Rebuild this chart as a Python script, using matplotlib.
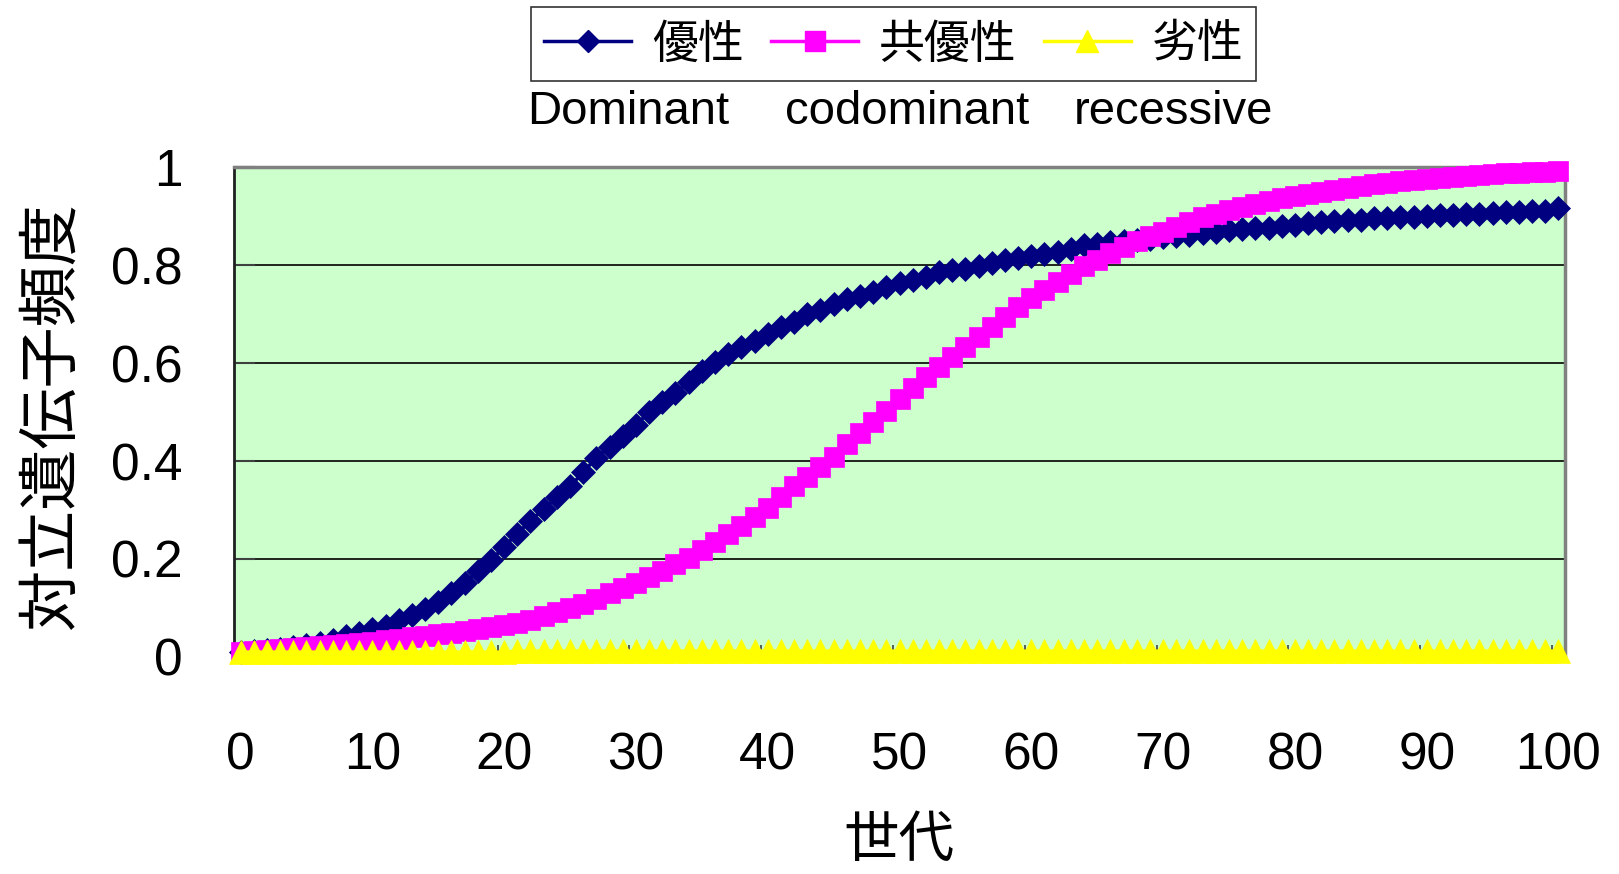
import numpy as np
import matplotlib
matplotlib.use('Agg')
import matplotlib.pyplot as plt
from matplotlib.lines import Line2D

LATIN = 'Liberation Sans'
CJK = 'Noto Sans CJK JP'

generations = np.arange(0, 101)

# allele frequency per generation, one list per mode of inheritance
dominant = [
	0.010, 0.012, 0.014, 0.017, 0.020, 0.024, 0.028, 0.035, 0.042, 0.049,
	0.057, 0.064, 0.076, 0.085, 0.097, 0.112, 0.131, 0.150, 0.175, 0.197,
	0.225, 0.252, 0.278, 0.302, 0.326, 0.348, 0.377, 0.407, 0.429, 0.452,
	0.473, 0.500, 0.520, 0.539, 0.561, 0.584, 0.602, 0.619, 0.632, 0.645,
	0.659, 0.673, 0.684, 0.700, 0.708, 0.721, 0.730, 0.736, 0.744, 0.756,
	0.764, 0.769, 0.776, 0.785, 0.789, 0.792, 0.798, 0.805, 0.811, 0.814,
	0.818, 0.823, 0.826, 0.833, 0.840, 0.842, 0.847, 0.849, 0.852, 0.853,
	0.858, 0.859, 0.862, 0.865, 0.867, 0.871, 0.874, 0.875, 0.876, 0.879,
	0.882, 0.885, 0.888, 0.890, 0.891, 0.892, 0.895, 0.895, 0.897, 0.898,
	0.900, 0.902, 0.903, 0.904, 0.905, 0.907, 0.908, 0.909, 0.910, 0.911,
	0.917]

codominant = [
	0.010, 0.013, 0.015, 0.017, 0.019, 0.021, 0.023, 0.025, 0.027, 0.029,
	0.031, 0.034, 0.037, 0.040, 0.043, 0.046, 0.049, 0.053, 0.057, 0.061,
	0.065, 0.070, 0.076, 0.083, 0.091, 0.100, 0.109, 0.119, 0.130, 0.141,
	0.152, 0.164, 0.176, 0.189, 0.203, 0.218, 0.234, 0.250, 0.267, 0.285,
	0.305, 0.327, 0.348, 0.368, 0.388, 0.409, 0.434, 0.457, 0.480, 0.502,
	0.526, 0.548, 0.571, 0.592, 0.613, 0.633, 0.654, 0.674, 0.694, 0.714,
	0.732, 0.750, 0.766, 0.781, 0.797, 0.811, 0.824, 0.836, 0.848, 0.859,
	0.868, 0.877, 0.888, 0.897, 0.905, 0.912, 0.919, 0.925, 0.931, 0.936,
	0.940, 0.945, 0.950, 0.954, 0.958, 0.961, 0.965, 0.968, 0.971, 0.974,
	0.976, 0.978, 0.980, 0.982, 0.984, 0.985, 0.987, 0.988, 0.989, 0.990,
	0.991]

recessive = [
	0.010, 0.010, 0.010, 0.010, 0.010, 0.010, 0.010, 0.010, 0.010, 0.010,
	0.010, 0.010, 0.010, 0.010, 0.010, 0.010, 0.010, 0.010, 0.010, 0.010,
	0.010, 0.012, 0.012, 0.012, 0.012, 0.012, 0.012, 0.012, 0.012, 0.012,
	0.012, 0.012, 0.012, 0.012, 0.012, 0.012, 0.012, 0.012, 0.012, 0.012,
	0.012, 0.012, 0.012, 0.012, 0.012, 0.012, 0.012, 0.012, 0.012, 0.012,
	0.012, 0.012, 0.012, 0.012, 0.012, 0.012, 0.012, 0.012, 0.012, 0.012,
	0.012, 0.012, 0.012, 0.012, 0.012, 0.012, 0.012, 0.012, 0.012, 0.012,
	0.012, 0.012, 0.012, 0.012, 0.012, 0.012, 0.012, 0.012, 0.012, 0.012,
	0.012, 0.012, 0.012, 0.012, 0.012, 0.012, 0.012, 0.012, 0.012, 0.012,
	0.012, 0.012, 0.012, 0.012, 0.012, 0.012, 0.012, 0.012, 0.012, 0.012,
	0.012]

series_names = ['優性', '共優性', '劣性']
english_names = ['Dominant', 'codominant', 'recessive']
y_ticks = [0, 0.2, 0.4, 0.6, 0.8, 1]
y_ticklabels = ['0', '0.2', '0.4', '0.6', '0.8', '1']
x_ticks = list(range(0, 101, 10))


def main():
	fig = plt.figure(figsize=(16.19, 8.74), dpi=100)
	ax = fig.add_axes([0.1445, 0.2483, 0.8222, 0.5606])
	ax.set_facecolor('#CCFFCC')

	styles = [
		dict(color='#000080', marker='D', markersize=12),
		dict(color='#FF00FF', marker='s', markersize=14.5),
		dict(color='#FFFF00', marker='^', markersize=17),
	]
	for values, st in zip([dominant, codominant, recessive], styles):
		ax.plot(generations, values, color=st['color'], lw=2.5,
				marker=st['marker'], markersize=st['markersize'],
				markerfacecolor=st['color'], markeredgecolor=st['color'],
				markeredgewidth=0.5, clip_on=False, zorder=3)

	ax.set_xlim(-0.5, 100.5)
	ax.set_ylim(0, 1)

	ax.set_yticks(y_ticks)
	ax.set_yticklabels(y_ticklabels, family=LATIN, fontsize=37)
	ax.tick_params(axis='y', direction='in', length=15, width=1.5,
				   color='#404040', pad=37)
	ax.yaxis.grid(True, color='black', linewidth=1.2)
	ax.set_axisbelow(True)

	ax.set_xticks(x_ticks)
	ax.set_xticklabels([str(t) for t in x_ticks], family=LATIN, fontsize=37)
	ax.tick_params(axis='x', which='major', length=0, pad=54)
	ax.set_xticks(np.arange(9.5, 100, 10), minor=True)
	ax.tick_params(axis='x', which='minor', direction='in', length=9,
				   width=1.2, color='#404040')

	for side in ['top', 'right']:
		ax.spines[side].set_color('#808080')
		ax.spines[side].set_linewidth(2.5)
	ax.spines['left'].set_color('#202020')
	ax.spines['left'].set_linewidth(2)
	ax.spines['bottom'].set_color('#202020')

	fig.text(0.0315, 0.524, '対立遺伝子頻度', rotation=90, ha='center',
			 va='center', family=CJK, fontsize=44)
	fig.text(0.555, 0.038, '世代', ha='center', va='center', family=CJK,
			 fontsize=40)

	handles = [Line2D([], [], color=st['color'], lw=2.5, marker=st['marker'],
					  markersize=st['markersize'] * 0.95,
					  markerfacecolor=st['color'],
					  markeredgecolor=st['color']) for st in styles]
	leg = fig.legend(handles, series_names, loc='center',
					 bbox_to_anchor=(0.552, 0.9495), ncol=3, frameon=True,
					 fancybox=False, prop={'family': CJK, 'size': 33},
					 handlelength=1.9, handletextpad=0.45, columnspacing=0.6,
					 borderpad=0.28, borderaxespad=0)
	leg.get_frame().set_edgecolor('black')
	leg.get_frame().set_linewidth(1.2)

	for name, xpos in zip(english_names, [0.3255, 0.4848, 0.6634]):
		fig.text(xpos, 0.8724, name, ha='left', va='center', family=LATIN,
				 fontsize=34)

	fig.savefig('out.png', dpi=100, facecolor='white')


if __name__ == '__main__':
	main()
